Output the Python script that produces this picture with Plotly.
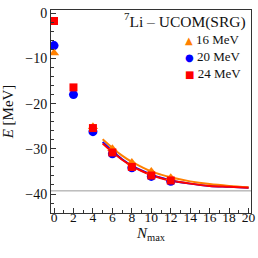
import plotly.graph_objects as go

# ---- data ----
nmax_pts = [0, 2, 4, 6, 8, 10, 12]
e_16 = [-8.8, None, -25.1, -30.0, -33.0, -35.0, -36.4]
e_20 = [-7.15, -18.0, -26.2, -31.1, -34.2, -36.1, -37.2]
e_24 = [-1.7, -16.4, -25.4, -30.8, -34.0, -35.9, -37.0]

nmax_fit = [5, 6, 7, 8, 9, 10, 11, 12, 14, 16, 18, 20]
fit_16 = [-27.9, -29.8, -31.5, -32.9, -34.0, -35.0, -35.7, -36.3, -37.2, -37.8, -38.2, -38.5]
fit_20 = [-28.5, -30.5, -32.3, -33.7, -34.8, -35.7, -36.4, -37.0, -37.7, -38.2, -38.4, -38.6]
fit_24 = [-28.8, -30.7, -32.4, -33.8, -34.9, -35.8, -36.5, -37.0, -37.7, -38.2, -38.4, -38.6]

e_extrap = -39.3

labels = ["16 MeV", "20 MeV", "24 MeV"]
ORANGE = "#FF8000"
BLUE = "#0000FF"
RED = "#FF0000"
FONT = "Liberation Serif"
TXT = "#111111"

fig = go.Figure()

# fit curves
fig.add_trace(go.Scatter(x=nmax_fit, y=fit_20, mode="lines", line=dict(color=BLUE, width=2, shape="spline"),
                         showlegend=False, hoverinfo="skip"))
fig.add_trace(go.Scatter(x=nmax_fit, y=fit_16, mode="lines", line=dict(color=ORANGE, width=2, shape="spline"),
                         showlegend=False, hoverinfo="skip"))
fig.add_trace(go.Scatter(x=nmax_fit, y=fit_24, mode="lines", line=dict(color=RED, width=2, shape="spline"),
                         showlegend=False, hoverinfo="skip"))

# points
fig.add_trace(go.Scatter(x=nmax_pts, y=e_20, mode="markers", name=labels[1],
                         marker=dict(symbol="circle", color=BLUE, size=9)))
fig.add_trace(go.Scatter(x=nmax_pts, y=e_16, mode="markers", name=labels[0],
                         marker=dict(symbol="triangle-up", color=ORANGE, size=9)))
fig.add_trace(go.Scatter(x=nmax_pts, y=e_24, mode="markers", name=labels[2],
                         marker=dict(symbol="square", color=RED, size=8)))

fig.add_hline(y=e_extrap, line=dict(color="#999999", width=1), layer="below")

axis_common = dict(
    showline=True, linecolor="#333333", linewidth=1, mirror=True,
    ticks="inside", ticklen=5, tickcolor="#333333", tickwidth=1,
    showgrid=False, zeroline=False, ticklabeloverflow="allow", automargin=False,
)

fig.update_xaxes(range=[-0.31, 20.25], tickmode="array", tickvals=list(range(0, 21, 2)),
                 minor=dict(dtick=1, tick0=0, ticks="inside", ticklen=3, tickcolor="#333333"),
                 ticklabelstandoff=-8,
                 tickfont=dict(family=FONT, size=13.5, color=TXT),
                 title=dict(text="<i>N</i><sub>max</sub>", font=dict(family=FONT, size=15, color=TXT),
                            standoff=3),
                 **axis_common)
fig.update_yaxes(range=[-44.2, 0.73], tickmode="array", tickvals=[0, -10, -20, -30, -40],
                 minor=dict(dtick=2, tick0=0, ticks="inside", ticklen=3, tickcolor="#333333"),
                 tickfont=dict(family=FONT, size=14, color=TXT),
                 title=dict(text="<i>E</i> [MeV]", font=dict(family=FONT, size=15, color=TXT),
                            standoff=20),
                 **axis_common)

fig.add_annotation(text="<sup>7</sup>Li – UCOM(SRG)", xref="paper", yref="paper",
                   x=0.985, y=0.95, xanchor="right", yanchor="middle", showarrow=False,
                   font=dict(family=FONT, size=15.5, color=TXT))

sym = [("▲", ORANGE), ("●", BLUE), ("■", RED)]
leg_lines = [f"<span style='color:{c};font-size:10px;font-family:DejaVu Sans'>{s}</span> {lab}"
             for (s, c), lab in zip(sym, labels)]
fig.add_annotation(text="<br>".join(leg_lines), xref="paper", yref="paper",
                   x=(183 - 50.5) / 201, y=(213.5 - 56.5) / 203.5, xanchor="left", yanchor="middle",
                   align="left", showarrow=False, font=dict(family=FONT, size=13, color=TXT))

fig.update_layout(
    width=258, height=258, autosize=False,
    margin=dict(l=50.5, r=6.5, t=10, b=44.5),
    paper_bgcolor="white", plot_bgcolor="white",
    showlegend=False,
)

fig.write_html("out.html", config={"displayModeBar": False},
               post_script="document.body.style.margin='0px';document.body.style.padding='0px';")
